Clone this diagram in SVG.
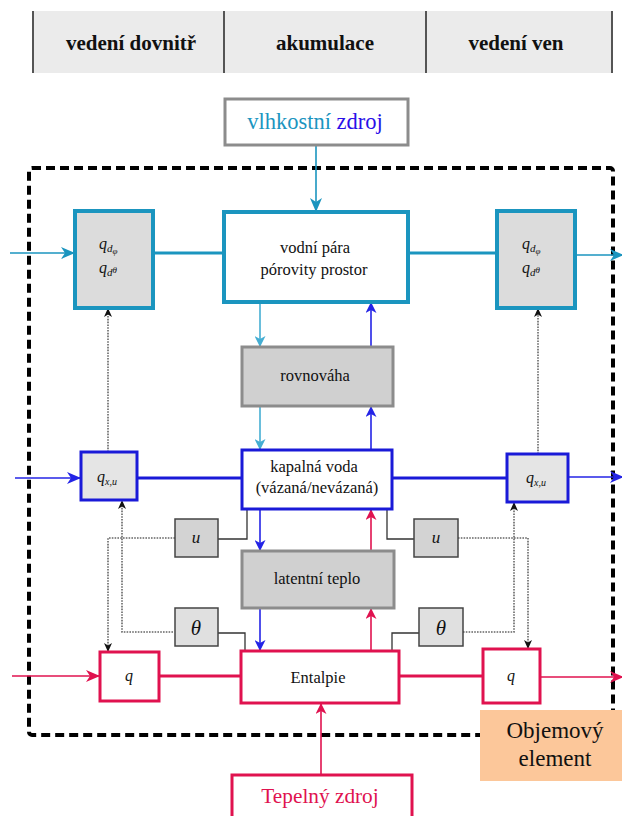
<svg xmlns="http://www.w3.org/2000/svg" width="622" height="816" viewBox="0 0 622 816" font-family="Liberation Serif, serif">
<defs>
<style>
text{font-family:'Liberation Serif','Times New Roman',serif;fill:#111;}
.hdr{font-size:21px;font-weight:bold;text-anchor:middle;}
.lbl{font-size:16.5px;text-anchor:middle;}
.it{font-style:italic;}
.gbox{fill:#d0d0d0;stroke:#8c8c8c;stroke-width:3;}
.sbox{stroke:#444;stroke-width:1.5;}
.dot{fill:none;stroke:#666;stroke-width:1.6;stroke-dasharray:1.6 1.2;}
.thin{fill:none;stroke:#333;stroke-width:1.3;}
</style>
<marker id="aT" markerUnits="userSpaceOnUse" markerWidth="14" markerHeight="12" refX="14" refY="6" orient="auto"><path d="M0,0 L14,6 L0,12 L4,6 z" fill="#1b95bf"/></marker>
<marker id="aTl" markerUnits="userSpaceOnUse" markerWidth="11" markerHeight="11" refX="11" refY="5.5" orient="auto"><path d="M0,0 L11,5.5 L0,11 L3,5.5 z" fill="#45aed3"/></marker>
<marker id="aB" markerUnits="userSpaceOnUse" markerWidth="14" markerHeight="12" refX="14" refY="6" orient="auto"><path d="M0,0 L14,6 L0,12 L4,6 z" fill="#2424e6"/></marker>
<marker id="aBs" markerUnits="userSpaceOnUse" markerWidth="11" markerHeight="11" refX="11" refY="5.5" orient="auto"><path d="M0,0 L11,5.5 L0,11 L3,5.5 z" fill="#2424e6"/></marker>
<marker id="aR" markerUnits="userSpaceOnUse" markerWidth="14" markerHeight="12" refX="14" refY="6" orient="auto"><path d="M0,0 L14,6 L0,12 L4,6 z" fill="#e0124f"/></marker>
<marker id="aRs" markerUnits="userSpaceOnUse" markerWidth="11" markerHeight="11" refX="11" refY="5.5" orient="auto"><path d="M0,0 L11,5.5 L0,11 L3,5.5 z" fill="#e0124f"/></marker>
<marker id="aK" markerUnits="userSpaceOnUse" markerWidth="9" markerHeight="8" refX="9" refY="4" orient="auto"><path d="M0,0 L9,4 L0,8 L2.5,4 z" fill="#111"/></marker>
</defs>
<rect width="622" height="816" fill="#fff"/>

<g id="header">
<rect x="33" y="11" width="579" height="62" fill="#ebebeb"/>
<g stroke="#555" stroke-width="2">
<line x1="33" y1="11" x2="33" y2="73"/>
<line x1="224" y1="11" x2="224" y2="73"/>
<line x1="426" y1="11" x2="426" y2="73"/>
<line x1="612" y1="11" x2="612" y2="73"/>
</g>
<text class="hdr" x="131" y="50">vedení dovnitř</text>
<text class="hdr" x="325" y="50">akumulace</text>
<text class="hdr" x="516" y="50">vedení ven</text>
</g>

<g id="boundary">
<rect x="29" y="168" width="584" height="567" rx="3" fill="none" stroke="#000" stroke-width="4" stroke-dasharray="9 5"/>
</g>

<g id="connectors" fill="none">
<line x1="316" y1="145" x2="316" y2="212" stroke="#1b95bf" stroke-width="1.6" marker-end="url(#aT)"/>
<line x1="10" y1="253" x2="75" y2="253" stroke="#1b95bf" stroke-width="1.6" marker-end="url(#aT)"/>
<line x1="153" y1="253" x2="224" y2="253" stroke="#1b95bf" stroke-width="3"/>
<line x1="408" y1="253" x2="497" y2="253" stroke="#1b95bf" stroke-width="3"/>
<line x1="575" y1="255" x2="624" y2="255" stroke="#1b95bf" stroke-width="1.6" marker-end="url(#aT)"/>
<line x1="260" y1="302" x2="260" y2="347" stroke="#45aed3" stroke-width="1.6" marker-end="url(#aTl)"/>
<line x1="260" y1="406" x2="260" y2="450" stroke="#45aed3" stroke-width="1.6" marker-end="url(#aTl)"/>
<line x1="371" y1="450" x2="371" y2="406" stroke="#2424e6" stroke-width="1.6" marker-end="url(#aBs)"/>
<line x1="371" y1="347" x2="371" y2="302" stroke="#2424e6" stroke-width="1.6" marker-end="url(#aBs)"/>
<line x1="15" y1="478" x2="81" y2="478" stroke="#2424e6" stroke-width="1.6" marker-end="url(#aB)"/>
<line x1="137" y1="478" x2="242" y2="478" stroke="#1a1ad8" stroke-width="3"/>
<line x1="392" y1="478" x2="507" y2="478" stroke="#1a1ad8" stroke-width="3"/>
<line x1="568" y1="477" x2="624" y2="477" stroke="#2424e6" stroke-width="1.6" marker-end="url(#aB)"/>
<line x1="260" y1="509" x2="260" y2="551" stroke="#2424e6" stroke-width="1.6" marker-end="url(#aBs)"/>
<line x1="260" y1="608" x2="260" y2="651" stroke="#2424e6" stroke-width="1.6" marker-end="url(#aBs)"/>
<line x1="371" y1="651" x2="371" y2="608" stroke="#e0124f" stroke-width="1.6" marker-end="url(#aRs)"/>
<line x1="371" y1="551" x2="371" y2="509" stroke="#e0124f" stroke-width="1.6" marker-end="url(#aRs)"/>
<line x1="12" y1="676" x2="100" y2="676" stroke="#e0124f" stroke-width="1.6" marker-end="url(#aR)"/>
<line x1="159" y1="676" x2="241" y2="676" stroke="#e0124f" stroke-width="3"/>
<line x1="399" y1="676" x2="483" y2="676" stroke="#e0124f" stroke-width="3"/>
<line x1="540" y1="677" x2="624" y2="677" stroke="#e0124f" stroke-width="1.6" marker-end="url(#aR)"/>
<line x1="321" y1="775" x2="321" y2="703" stroke="#e0124f" stroke-width="1.6" marker-end="url(#aRs)"/>
<path class="thin" d="M218,539 H247 V509"/>
<path class="thin" d="M218,633 H245 V651"/>
<path class="thin" d="M387,509 V539 H414"/>
<path class="thin" d="M392,651 V633 H419"/>
<path class="dot" d="M108,452 V308" marker-end="url(#aK)"/>
<path class="dot" d="M538,454 V308" marker-end="url(#aK)"/>
<path class="dot" d="M175,538 H108 V652" marker-end="url(#aK)"/>
<path class="dot" d="M173,632 H122 V500" marker-end="url(#aK)"/>
<path class="dot" d="M458,538 H528 V649" marker-end="url(#aK)"/>
<path class="dot" d="M463,632 H514 V502" marker-end="url(#aK)"/>
</g>

<g id="vlhkostni-zdroj">
<rect x="225" y="99" width="183" height="46" fill="#fff" stroke="#8c8c8c" stroke-width="3"/>
<text x="315" y="129" font-size="22.5" text-anchor="middle"><tspan style="fill:#1b95bf">vlhkostní </tspan><tspan style="fill:#2a10e8">zdroj</tspan></text>
</g>

<g id="qd-in">
<rect x="75" y="211" width="78" height="97" fill="#dcdcdc" stroke="#1b95bf" stroke-width="4"/>
<text x="99" y="249" font-size="16" class="it">q<tspan font-size="11" dy="3">d</tspan><tspan font-size="9" dy="2">φ</tspan></text>
<text x="99" y="273" font-size="16" class="it">q<tspan font-size="11" dy="3">d</tspan><tspan font-size="9" dy="-3">θ</tspan></text>
</g>

<g id="vodni-para">
<rect x="224" y="212" width="184" height="90" fill="#fff" stroke="#1b95bf" stroke-width="4"/>
<text class="lbl" x="315" y="253">vodní pára</text>
<text class="lbl" x="314" y="275">pórovity prostor</text>
</g>

<g id="qd-out">
<rect x="497" y="211" width="78" height="97" fill="#dcdcdc" stroke="#1b95bf" stroke-width="4"/>
<text x="522" y="249" font-size="16" class="it">q<tspan font-size="11" dy="3">d</tspan><tspan font-size="9" dy="2">φ</tspan></text>
<text x="522" y="273" font-size="16" class="it">q<tspan font-size="11" dy="3">d</tspan><tspan font-size="9" dy="-3">θ</tspan></text>
</g>

<g id="rovnovaha">
<rect class="gbox" x="242" y="347" width="151" height="59"/>
<text class="lbl" x="315" y="381">rovnováha</text>
</g>

<g id="qxu-in">
<rect x="81" y="452" width="56" height="48" fill="#e5e5e5" stroke="#1a1ad8" stroke-width="3"/>
<text x="97" y="482" font-size="16" class="it">q<tspan font-size="10" dy="3">x,u</tspan></text>
</g>

<g id="kapalna-voda">
<rect x="242" y="450" width="150" height="59" fill="#fff" stroke="#1a1ad8" stroke-width="3"/>
<text class="lbl" x="314" y="472">kapalná voda</text>
<text class="lbl" x="317" y="493">(vázaná/nevázaná)</text>
</g>

<g id="qxu-out">
<rect x="507" y="454" width="61" height="48" fill="#e5e5e5" stroke="#1a1ad8" stroke-width="3"/>
<text x="526" y="483" font-size="16" class="it">q<tspan font-size="10" dy="3">x,u</tspan></text>
</g>

<g id="u-left">
<rect class="sbox" x="175" y="519" width="43" height="38" fill="#d3d3d3"/>
<text x="196" y="543" font-size="17" class="it" text-anchor="middle">u</text>
</g>

<g id="u-right">
<rect class="sbox" x="414" y="519" width="44" height="38" fill="#d3d3d3"/>
<text x="436" y="543" font-size="17" class="it" text-anchor="middle">u</text>
</g>

<g id="latentni-teplo">
<rect class="gbox" x="242" y="551" width="152" height="57"/>
<text class="lbl" x="317" y="584">latentní teplo</text>
</g>

<g id="theta-left">
<rect class="sbox" x="175" y="608" width="43" height="38" fill="#e0e0e0"/>
<text x="196" y="635" font-size="21" class="it" text-anchor="middle">θ</text>
</g>

<g id="theta-right">
<rect class="sbox" x="419" y="608" width="44" height="38" fill="#e0e0e0"/>
<text x="441" y="635" font-size="21" class="it" text-anchor="middle">θ</text>
</g>

<g id="q-in">
<rect x="100" y="652" width="59" height="49" fill="#fff" stroke="#e0124f" stroke-width="3"/>
<text x="129" y="681" font-size="16" class="it" text-anchor="middle">q</text>
</g>

<g id="entalpie">
<rect x="241" y="651" width="158" height="52" fill="#fff" stroke="#e0124f" stroke-width="3"/>
<text x="318" y="683" font-size="16.5" text-anchor="middle">Entalpie</text>
</g>

<g id="q-out">
<rect x="483" y="649" width="57" height="54" fill="#fff" stroke="#e0124f" stroke-width="3"/>
<text x="511" y="681" font-size="16" class="it" text-anchor="middle">q</text>
</g>

<g id="tepelny-zdroj">
<rect x="232" y="775" width="180" height="60" fill="#fff" stroke="#e0124f" stroke-width="3"/>
<text x="320" y="803" font-size="21.3" text-anchor="middle" style="fill:#e0124f">Tepelný zdroj</text>
</g>

<g id="objemovy-element">
<rect x="480" y="710" width="142" height="71" fill="#fcc79a"/>
<text x="555" y="738" font-size="23" text-anchor="middle">Objemový</text>
<text x="555" y="766" font-size="23" text-anchor="middle">element</text>
</g>
</svg>
